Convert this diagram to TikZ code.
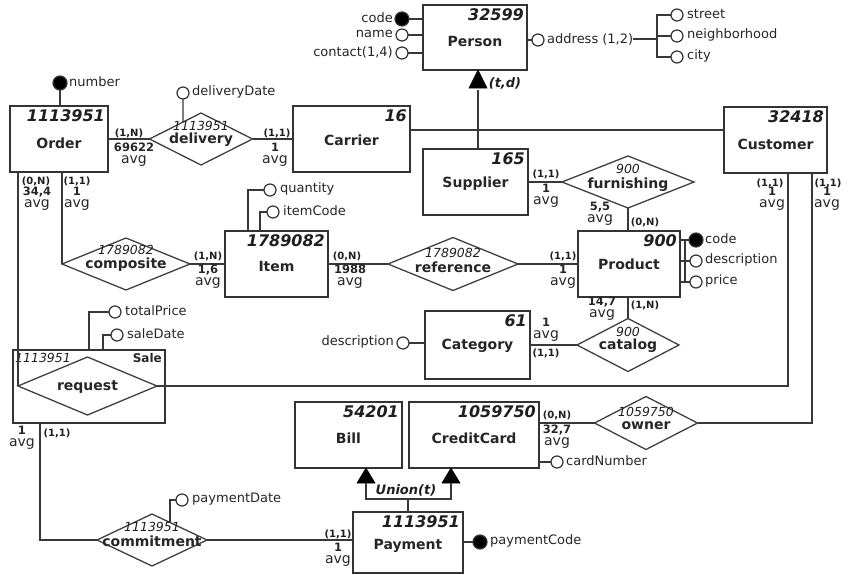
\documentclass[tikz,border=0pt]{standalone}
\usepackage{fontspec}
\setmainfont{DejaVu Sans}
\usetikzlibrary{shapes.geometric,calc}
\tikzset{
 ln/.style={draw=black!78, line width=1.3pt},
 entbox/.style={draw=black!80, line width=1.8pt, fill=white, rectangle, inner sep=0pt, outer sep=0pt},
 entnum/.style={font=\fontsize{16}{16}\selectfont\bfseries\itshape, inner sep=0pt, text=black!88},
 entname/.style={font=\fontsize{14}{14}\selectfont\bfseries, inner sep=0pt, text=black!85},
 reld/.style={draw=black!75, line width=1.3pt, diamond, inner sep=0pt, outer sep=0pt, fill=white},
 relnum/.style={font=\fontsize{12.5}{12.5}\selectfont\itshape, inner sep=0pt, text=black!88},
 relname/.style={font=\fontsize{14}{14}\selectfont\bfseries, inner sep=0pt, text=black!85},
 attO/.style={circle, draw=black!80, line width=1.2pt, fill=white, minimum size=12pt, inner sep=0pt, outer sep=0pt},
 attF/.style={attO, fill=black, minimum size=14pt},
 attl/.style={font=\fontsize{13}{13}\selectfont, inner sep=0pt, text=black!85},
 cardl/.style={font=\fontsize{10}{10}\selectfont\bfseries, inner sep=0pt, text=black!88},
 statl/.style={font=\fontsize{14}{12}\selectfont, inner sep=0pt, align=center, text=black!85},
 genl/.style={font=\fontsize{13}{13}\selectfont\bfseries\itshape, inner sep=0pt, text=black!88},
 tri/.style={fill=black, draw=black, line width=0.6pt, line join=miter}
}
\newcommand{\statv}[1]{{\bfseries\fontsize{11.5}{12}\selectfont #1}\\avg}
\newcommand{\mkent}[8]{%
 \node[entbox, minimum width={(#4)-(#2)}, minimum height={(#5)-(#3)}] (#1) at ({((#2)+(#4))/2},{((#3)+(#5))/2}) {};
 \node[entnum, anchor=north east] (#1-n) at ([xshift=-3pt,yshift=-3pt]#1.north east) {#6};
 \node[entname] (#1-t) at ({((#2)+(#4))/2},#8) {#7};}
\newcommand{\mkrel}[9]{%
 \node[reld, minimum width=#4, minimum height=#5] (#1) at (#2,#3) {};
 \node[relnum] (#1-n) at (#2,#7) {#6};
 \node[relname] (#1-t) at (#2,#9) {#8};}
\begin{document}
\begin{tikzpicture}[x=1pt,y=-1pt]
\fill[white] (0,0) rectangle (849,574);
\useasboundingbox (0,0) rectangle (849,574);

% ---------- entities ----------
\mkent{person}{423}{5}{527}{70}{32599}{Person}{41}
\mkent{carrier}{293}{106}{410}{172}{16}{Carrier}{140}
\mkent{supplier}{423}{149}{528}{215}{165}{Supplier}{184}
\mkent{customer}{724}{107}{827}{173}{32418}{Customer}{144}
\mkent{order}{10}{106}{108}{172}{1113951}{Order}{143}
\mkent{item}{225}{231}{328}{297}{1789082}{Item}{266}
\mkent{product}{578}{231}{680}{297}{900}{Product}{264}
\mkent{category}{425}{311}{530}{379}{61}{Category}{346}
\mkent{bill}{295}{402}{402}{468}{54201}{Bill}{438}
\mkent{creditcard}{409}{402}{539}{468}{1059750}{CreditCard}{438}
\mkent{payment}{353}{512}{463}{573}{1113951}{Payment}{546}

% ---------- Sale aggregation ----------
\node[entbox, line width=1.6pt, minimum width=152, minimum height=73] (sale) at (89,386.5) {};
\node[relnum, anchor=north west] (sale-n) at ([xshift=2pt,yshift=-3pt]sale.north west) {1113951};
\node[font=\fontsize{12}{12}\selectfont\bfseries, inner sep=0pt, anchor=north east, text=black!85] (sale-t) at ([xshift=-3pt,yshift=-3pt]sale.north east) {Sale};
\node[reld, minimum width=139, minimum height=58] (request) at (87.5,386) {};
\node[relname] (request-t) at (87.5,387) {request};

% ---------- relationships ----------
\mkrel{delivery}{201}{139}{103}{52}{1113951}{126}{delivery}{140}
\mkrel{furnishing}{628}{182}{132}{52}{900}{169}{furnishing}{185}
\mkrel{composite}{126}{264}{128}{52}{1789082}{250}{composite}{265}
\mkrel{reference}{453}{264}{130}{53}{1789082}{253}{reference}{267}
\mkrel{catalog}{628}{345}{102}{53}{900}{332}{catalog}{346}
\mkrel{owner}{646}{423}{103}{53}{1059750}{412}{owner}{426}
\mkrel{commitment}{152}{540}{110}{52}{1113951}{527}{commitment}{541}

% ---------- connectors ----------
\draw[ln] (order.east |- delivery.west) -- (delivery.west);
\draw[ln] (delivery.east) -- (delivery.east -| carrier.west);
\draw[ln] (request.west |- order.south) -- (request.west);
\draw[ln] (composite.west |- order.south) -- (composite.west);
\draw[ln] (composite.east) -- (composite.east -| item.west);
\draw[ln] (item.east |- reference.west) -- (reference.west);
\draw[ln] (reference.east) -- (reference.east -| product.west);
\draw[ln] (supplier.east |- furnishing.west) -- (furnishing.west);
\draw[ln] (furnishing.south) -- (furnishing.south |- product.north);
\draw[ln] (product.south -| catalog.north) -- (catalog.north);
\draw[ln] (category.east |- catalog.west) -- (catalog.west);
\coordinate (cl) at (788,0);
\coordinate (cr) at (812,0);
\draw[ln] (request.east) -- (request.east -| cl) -- (cl |- customer.south);
\draw[ln] (cr |- customer.south) -- (cr |- owner.east) -- (owner.east);
\draw[ln] (creditcard.east |- owner.west) -- (owner.west);
\coordinate (sb) at (40,0);
\draw[ln] (sb |- sale.south) -- (sb |- commitment.west) -- (commitment.west);
\draw[ln] (commitment.east) -- (commitment.east -| payment.west);

% ---------- generalization Person ----------
\coordinate (gp) at (478,90);
\coordinate (gh) at (0,130);
\fill[tri] (gp |- person.south) -- ++(-9,18) -- ++(18,0) -- cycle;
\draw[ln] (gp) -- (gp |- supplier.north);
\draw[ln] (carrier.east |- gh) -- (customer.west |- gh);
\node[genl] (td) at (505,83) {(t,d)};

% ---------- union Payment ----------
\coordinate (ub) at (366,483);
\coordinate (uc) at (451,483);
\coordinate (uy) at (0,499);
\fill[tri] (ub |- bill.south) -- ++(-9,15) -- ++(18,0) -- cycle;
\fill[tri] (uc |- creditcard.south) -- ++(-9,15) -- ++(18,0) -- cycle;
\draw[ln] (ub) -- (ub |- uy) -- (uc |- uy) -- (uc);
\draw[ln] (payment.north |- uy) -- (payment.north);
\node[genl] (un) at (406,490) {Union(t)};

% ---------- attributes ----------
\node[attF] (anum) at (60,83) {};
\node[attl, anchor=west] (anum-l) at (69,82) {number};
\draw[ln] (anum) -- (anum |- order.north);

\node[attO] (add) at (183,93) {};
\node[attl, anchor=west] (add-l) at (192,92) {deliveryDate};
\coordinate (addj) at ($(delivery.north)!0.35!(delivery.west)$);
\draw[ln] (add) -- (addj);

\node[attF] (pcode) at (402,19) {};
\node[attO] (pname) at (402,35) {};
\node[attO] (pcont) at (402,53) {};
\draw[ln] (pcode) -- (pcode -| person.west);
\draw[ln] (pname) -- (pname -| person.west);
\draw[ln] (pcont) -- (pcont -| person.west);
\node[attl, anchor=east] (pcode-l) at (393,18) {code};
\node[attl, anchor=east] (pname-l) at (393,34) {name};
\node[attl, anchor=east] (pcont-l) at (393,52) {contact(1,4)};

\node[attO] (padr) at (538,40) {};
\draw[ln] (padr) -- (padr -| person.east);
\node[attl, anchor=west] (padr-l) at (547,39) {address (1,2)};
\coordinate (bx) at (657,0);
\node[attO] (ast) at (677,15) {};
\node[attO] (anb) at (677,36) {};
\node[attO] (acity) at (677,57) {};
\draw[ln] (padr-l.east) -- (bx |- padr-l.east);
\draw[ln] (ast.west) -- (bx |- ast) -- (bx |- acity) -- (acity.west);
\draw[ln] (bx |- anb) -- (anb.west);
\node[attl, anchor=west] (ast-l) at (687,14) {street};
\node[attl, anchor=west] (anb-l) at (687,35) {neighborhood};
\node[attl, anchor=west] (acity-l) at (687,56) {city};

\node[attO] (aqty) at (270,190) {};
\node[attO] (aic) at (273,212) {};
\coordinate (q1) at (248,0);
\coordinate (q2) at (260,0);
\draw[ln] (aqty.west) -- (q1 |- aqty) -- (q1 |- item.north);
\draw[ln] (aic.west) -- (q2 |- aic) -- (q2 |- item.north);
\node[attl, anchor=west] (aqty-l) at (280,189) {quantity};
\node[attl, anchor=west] (aic-l) at (283,211) {itemCode};

\node[attF] (prc) at (696,240) {};
\node[attO] (prd) at (696,261) {};
\node[attO] (prp) at (696,282) {};
\coordinate (pb) at (685,0);
\draw[ln] (prc) -- (prc -| product.east);
\draw[ln] (pb |- prc) -- (pb |- prp);
\draw[ln] (prd) -- (prd -| product.east);
\draw[ln] (prp) -- (prp -| product.east);
\node[attl, anchor=west] (prc-l) at (705,239) {code};
\node[attl, anchor=west] (prd-l) at (705,260) {description};
\node[attl, anchor=west] (prp-l) at (705,281) {price};

\node[attO] (catd) at (403,343) {};
\draw[ln] (catd) -- (catd -| category.west);
\node[attl, anchor=east] (catd-l) at (394,342) {description};

\node[attO] (atp) at (115,312) {};
\node[attO] (asd) at (117,335) {};
\coordinate (s1) at (89,0);
\coordinate (s2) at (103,0);
\draw[ln] (atp.west) -- (s1 |- atp) -- (s1 |- sale.north);
\draw[ln] (asd.west) -- (s2 |- asd) -- (s2 |- sale.north);
\node[attl, anchor=west] (atp-l) at (125,311) {totalPrice};
\node[attl, anchor=west] (asd-l) at (127,334) {saleDate};

\node[attO] (ccn) at (557,462) {};
\draw[ln] (ccn) -- (ccn -| creditcard.east);
\node[attl, anchor=west] (ccn-l) at (566,461) {cardNumber};

\node[attF] (pcd) at (480,542) {};
\draw[ln] (pcd) -- (pcd -| payment.east);
\node[attl, anchor=west] (pcd-l) at (490,541) {paymentCode};

\node[attO] (apd) at (182,500) {};
\coordinate (pdj) at ($(commitment.north)!0.327!(commitment.east)$);
\draw[ln] (apd.west) -- (pdj |- apd) -- (pdj);
\node[attl, anchor=west] (apd-l) at (192,499) {paymentDate};

% ---------- cardinalities ----------
\node[cardl] (k1) at (129,133) {(1,N)};
\node[statl, anchor=north] (k1s) at (134,143) {\statv{69622}};
\node[cardl] (k2) at (277,133) {(1,1)};
\node[statl, anchor=north] (k2s) at (275,143) {\statv{1}};
\node[cardl] (k3) at (36,181) {(0,N)};
\node[statl, anchor=north] (k3s) at (37,187) {\statv{34,4}};
\node[cardl] (k4) at (77,181) {(1,1)};
\node[statl, anchor=north] (k4s) at (77,187) {\statv{1}};
\node[cardl] (k5) at (208,256) {(1,N)};
\node[statl, anchor=north] (k5s) at (208,265) {\statv{1,6}};
\node[cardl] (k6) at (347,256) {(0,N)};
\node[statl, anchor=north] (k6s) at (350,265) {\statv{1988}};
\node[cardl] (k7) at (563,256) {(1,1)};
\node[statl, anchor=north] (k7s) at (563,265) {\statv{1}};
\node[cardl] (k8) at (546,174) {(1,1)};
\node[statl, anchor=north] (k8s) at (546,184) {\statv{1}};
\node[statl, anchor=north] (k9s) at (600,202) {\statv{5,5}};
\node[cardl] (k9) at (645,222) {(0,N)};
\node[statl, anchor=north] (k10s) at (602,297) {\statv{14,7}};
\node[cardl] (k10) at (645,305) {(1,N)};
\node[statl, anchor=south] (k11s) at (546,342) {\statv{1}};
\node[cardl] (k11) at (546,353) {(1,1)};
\node[cardl] (k12) at (770,183) {(1,1)};
\node[statl, anchor=north] (k12s) at (772,187) {\statv{1}};
\node[cardl] (k13) at (828,183) {(1,1)};
\node[statl, anchor=north] (k13s) at (827,187) {\statv{1}};
\node[cardl] (k14) at (557,415) {(0,N)};
\node[statl, anchor=north] (k14s) at (557,425) {\statv{32,7}};
\node[statl, anchor=north] (k15s) at (22,426) {\statv{1}};
\node[cardl] (k15) at (57,433) {(1,1)};
\node[cardl] (k16) at (338,534) {(1,1)};
\node[statl, anchor=north] (k16s) at (338,543) {\statv{1}};
\end{tikzpicture}
\end{document}
